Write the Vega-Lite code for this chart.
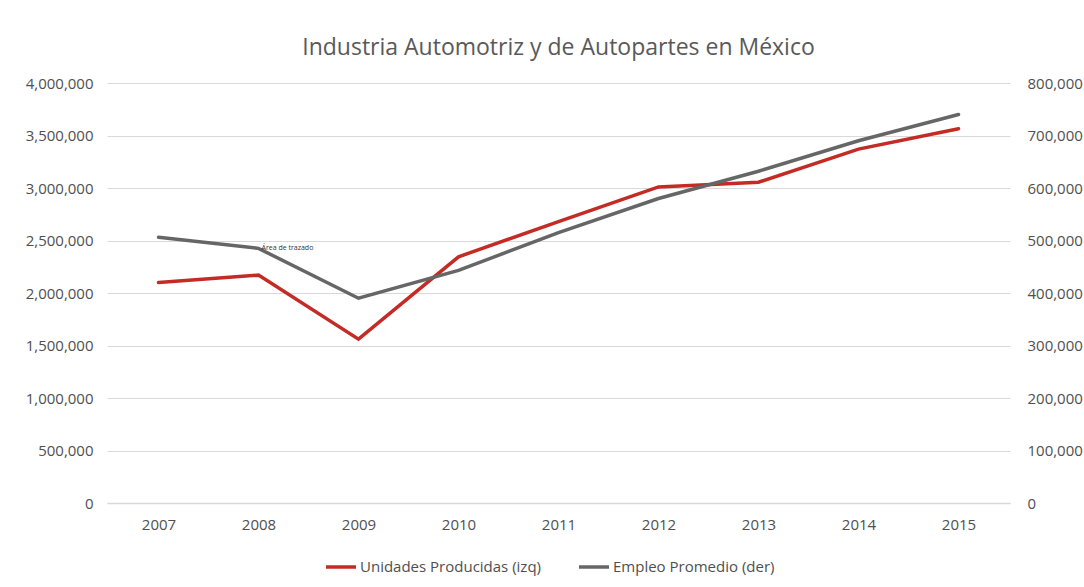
{
  "$schema": "https://vega.github.io/schema/vega-lite/v6.json",
  "autosize": "none",
  "width": 903,
  "height": 420,
  "padding": {"left": 107, "right": 74, "top": 83, "bottom": 84},
  "background": "white",
  "title": {
    "text": "Industria Automotriz y de Autopartes en México",
    "font": "Open Sans",
    "fontSize": 23,
    "fontWeight": "normal",
    "color": "#595959",
    "anchor": "middle",
    "offset": 16
  },
  "config": {
    "view": {"stroke": null},
    "font": "Open Sans",
    "axis": {
      "labelFont": "Open Sans",
      "labelFontSize": 15,
      "labelColor": "#4f4f4f",
      "ticks": false,
      "domain": false,
      "title": null
    }
  },
  "data": {
    "values": [
      {"year": "2007", "unidades": 2100000, "empleo": 506000},
      {"year": "2008", "unidades": 2170000, "empleo": 485000},
      {"year": "2009", "unidades": 1560000, "empleo": 390000},
      {"year": "2010", "unidades": 2345000, "empleo": 443000},
      {"year": "2011", "unidades": 2680000, "empleo": 515000},
      {"year": "2012", "unidades": 3010000, "empleo": 580000},
      {"year": "2013", "unidades": 3055000, "empleo": 632000},
      {"year": "2014", "unidades": 3370000, "empleo": 690000},
      {"year": "2015", "unidades": 3565000, "empleo": 740000}
    ]
  },
  "encoding": {
    "x": {
      "field": "year",
      "type": "ordinal",
      "scale": {"type": "point", "padding": 0.515},
      "axis": {
        "labelAngle": 0,
        "labelPadding": 14,
        "grid": false,
        "domain": true,
        "domainColor": "#d9d9d9",
        "domainWidth": 1.5
      }
    }
  },
  "layer": [
    {
      "mark": {"type": "line", "strokeWidth": 3.5, "strokeCap": "round"},
      "encoding": {
        "y": {
          "field": "unidades",
          "type": "quantitative",
          "scale": {"domain": [0, 4000000]},
          "axis": {
            "orient": "left",
            "values": [0, 500000, 1000000, 1500000, 2000000, 2500000, 3000000, 3500000, 4000000],
            "format": ",d",
            "labelPadding": 14,
            "grid": true,
            "gridColor": "#d9d9d9",
            "gridWidth": 1.2
          }
        },
        "color": {
          "datum": "Unidades Producidas (izq)",
          "type": "nominal",
          "scale": {
            "domain": ["Unidades Producidas (izq)", "Empleo Promedio (der)"],
            "range": ["#c42b25", "#666666"]
          },
          "legend": {
            "title": null,
            "orient": "none",
            "legendX": 217,
            "legendY": 467,
            "direction": "horizontal",
            "symbolType": "stroke",
            "symbolSize": 900,
            "symbolStrokeWidth": 3.5,
            "labelFont": "Open Sans",
            "labelFontSize": 15,
            "labelColor": "#4f4f4f",
            "labelOffset": 2,
            "labelLimit": 0,
            "columnPadding": 30
          }
        }
      }
    },
    {
      "layer": [
        {
          "mark": {"type": "line", "strokeWidth": 3.5, "strokeCap": "round"},
          "encoding": {
            "y": {
              "field": "empleo",
              "type": "quantitative",
              "scale": {"domain": [0, 800000]},
              "axis": {
                "orient": "right",
                "values": [0, 100000, 200000, 300000, 400000, 500000, 600000, 700000, 800000],
                "format": ",d",
                "labelPadding": 17,
                "grid": false
              }
            },
            "color": {"datum": "Empleo Promedio (der)", "type": "nominal"}
          }
        },
        {
          "data": {"values": [{"year": "2008", "empleo": 485000, "label": "Área de trazado"}]},
          "mark": {"type": "text", "fontSize": 7, "color": "#333333", "align": "left", "baseline": "middle", "dx": 3, "dy": 0},
          "encoding": {
            "y": {"field": "empleo", "type": "quantitative"},
            "text": {"field": "label"}
          }
        }
      ]
    }
  ],
  "resolve": {"scale": {"y": "independent"}}
}
